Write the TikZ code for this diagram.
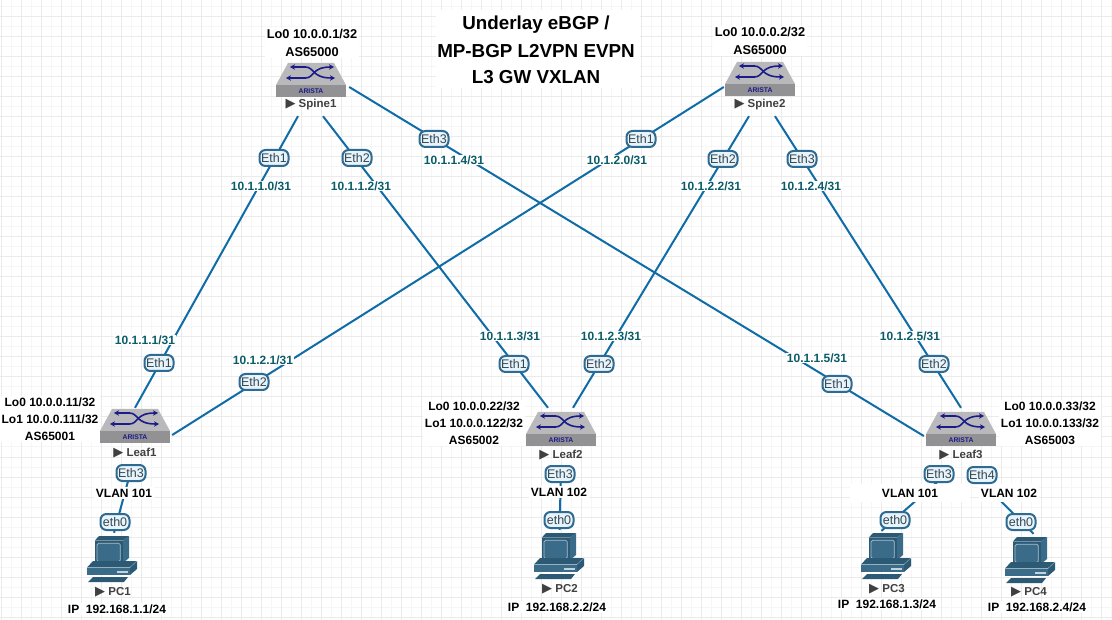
\documentclass[tikz,border=0pt]{standalone}
\usepackage{fontspec}
\setmainfont{Liberation Sans}
\newfontfamily\symfont{DejaVu Sans}
\usetikzlibrary{arrows.meta}
\definecolor{gridmin}{HTML}{F6F6F6}
\definecolor{gridmaj}{HTML}{EBEBEB}
\definecolor{linkc}{HTML}{0F6CA6}
\definecolor{ethfill}{HTML}{E8F4FC}
\definecolor{ethdraw}{HTML}{2F6A92}
\definecolor{ethtext}{HTML}{36464F}
\definecolor{iptext}{HTML}{0A5C68}
\definecolor{navy}{HTML}{1B1B8A}
\definecolor{pcfill}{HTML}{3A6B88}
\definecolor{pcdark}{HTML}{2C5A75}
\definecolor{pcedge}{HTML}{A9C2D0}
\definecolor{swtop}{HTML}{B9B9BB}
\definecolor{swband}{HTML}{929294}
\tikzset{
  x=1pt,y=-1pt,
  link/.style={draw=linkc,line width=2pt},
  devbox/.style={inner sep=0pt,minimum width=70pt,minimum height=54pt},
  pcbox/.style={inner sep=0pt,minimum width=50pt,minimum height=46pt},
  eth/.style={draw=ethdraw,fill=ethfill,line width=2pt,rounded corners=6pt,inner sep=0pt,minimum width=29pt,minimum height=16pt,text=ethtext,font=\fontsize{12.5}{14}\selectfont},
  ip/.style={fill=white,inner sep=1pt,text=iptext,font=\fontsize{12}{14}\selectfont\bfseries},
  info/.style={fill=white,inner sep=1.5pt,text=black,font=\fontsize{12}{14}\selectfont\bfseries,align=center},
  spineinfo/.style={info,font=\fontsize{12.8}{14}\selectfont\bfseries},
  titleline/.style={inner sep=0pt,anchor=base,text=black,font=\fontsize{18.8}{22}\selectfont\bfseries},
  devname/.style={inner sep=0pt,text=black!75,font=\fontsize{11.5}{13}\selectfont\bfseries},
  sw/.pic={
    \fill[swtop] (-23,0) -- (23,0) -- (35,22) -- (-35,22) -- cycle;
    \fill[swband] (-35,22) rectangle (35,34);
    \draw[navy,line width=1.6pt,-{Stealth[length=5pt,width=5.5pt]}] (-6,4) .. controls (4,4) and (0,15) .. (24,15);
    \draw[navy,line width=1.6pt,-{Stealth[length=5pt,width=5.5pt]}] (-5,4) -- (-21,4);
    \draw[navy,line width=1.6pt,-{Stealth[length=5pt,width=5.5pt]}] (-6,15) .. controls (4,15) and (0,4) .. (23,4);
    \draw[navy,line width=1.6pt,-{Stealth[length=5pt,width=5.5pt]}] (-5,15) -- (-25,15);
    \node (-brand) [inner sep=0pt,text=navy,font=\fontsize{6.8}{8}\selectfont\bfseries] at (0,28) {ARISTA};
  },
  pcicon/.pic={
    \fill[pcdark] (7.7,4.7) -- (12,0) -- (42,0) -- (36,4.7) -- cycle;
    \fill[pcfill] (36,4.7) -- (42,0) -- (42,22) -- (36,27) -- cycle;
    \fill[pcdark] (7.7,4.7) rectangle (36,27);
    \draw[pcedge,line width=.7pt,rounded corners=1.5pt,fill=pcfill] (10,7.3) rectangle (33.3,25.5);
    \fill[pcdark] (0,31.5) -- (6,25) -- (50,25) -- (43,31.5) -- cycle;
    \draw[pcedge,line width=.5pt] (0,31.5) -- (43,31.5) -- (50,25);
    \fill[pcfill] (0,31.8) rectangle (43,39);
    \fill[pcdark] (43,31.8) -- (50,25.3) -- (50,33) -- (43,39) -- cycle;
    \fill[white!70!pcfill] (30,35.3) rectangle (41,37);
    \fill[pcdark] (1,46) -- (6,41) -- (41,41) -- (37,46) -- cycle;
  }
}
\newcommand{\tri}{{\symfont\fontsize{13}{13}\selectfont ▶}}
\begin{document}
\begin{tikzpicture}
\useasboundingbox (0,0) rectangle (1112,620);
\fill[white] (0,0) rectangle (1112,620);
% grid
\foreach \gx in {11,31,...,1111} \draw[gridmin,line width=1pt] (\gx,0) -- (\gx,620);
\foreach \gy in {7,27,...,617} \draw[gridmin,line width=1pt] (0,\gy) -- (1112,\gy);
\foreach \gx in {1,21,...,1111} \draw[gridmaj,line width=1pt] (\gx,0) -- (\gx,620);
\foreach \gy in {17,37,...,617} \draw[gridmaj,line width=1pt] (0,\gy) -- (1112,\gy);
% device anchors
\node[devbox] (spine1) at (311,89) {};
\node[devbox] (spine2) at (760,89) {};
\node[devbox] (leaf1) at (135,435) {};
\node[devbox] (leaf2) at (561,435) {};
\node[devbox] (leaf3) at (961,435) {};
\node[pcbox] (pc1) at (112,559) {};
\node[pcbox] (pc2) at (559.5,556) {};
\node[pcbox] (pc3) at (886.5,556) {};
\node[pcbox] (pc4) at (1030.5,560) {};
% connectors
\draw[link] ([xshift=-13pt]spine1.south) -- (leaf1.north);
\draw[link] ([xshift=12pt]spine1.south) -- ([xshift=-13pt]leaf2.north);
\draw[link] ([xshift=3pt,yshift=2pt]spine1.east) -- ([xshift=-2pt,yshift=-1pt]leaf3.west);
\draw[link] ([xshift=-1pt,yshift=2pt]spine2.west) -- ([xshift=2pt]leaf1.east);
\draw[link] ([xshift=-11pt]spine2.south) -- ([xshift=12pt]leaf2.north);
\draw[link] ([xshift=15pt]spine2.south) -- (leaf3.north);
\draw[link] ([xshift=-4pt,yshift=-8pt]leaf1.south) -- ([xshift=2pt,yshift=3pt]pc1.north);
\draw[link] ([yshift=-8pt]leaf2.south) -- ([yshift=3pt]pc2.north);
\draw[link] ([xshift=-16pt,yshift=-13pt]leaf3.south) -- ([xshift=-5pt,yshift=2pt]pc3.north);
\draw[link] ([xshift=14pt,yshift=-13pt]leaf3.south) -- ([xshift=3pt,yshift=3pt]pc4.north);
% title
\node[fill=white,inner sep=0pt,minimum width=204pt,minimum height=78pt] (titlebg) at (538,49) {};
\node[titleline] (t1) at (536,30) {Underlay eBGP /};
\node[titleline] (t2) at (536,57.5) {MP-BGP L2VPN EVPN};
\node[titleline] (t3) at (536,83.5) {L3 GW VXLAN};
% info labels
\node[spineinfo] (i1) at (312,43) {Lo0 10.0.0.1/32\\[4pt]AS65000};
\node[spineinfo] (i2) at (760,41) {Lo0 10.0.0.2/32\\[4pt]AS65000};
\node[info] (i3) at (50,419) {Lo0 10.0.0.11/32\\[3pt]Lo1 10.0.0.111/32\\[3pt]AS65001};
\node[info] (i4) at (474,423) {Lo0 10.0.0.22/32\\[3pt]Lo1 10.0.0.122/32\\[3pt]AS65002};
\node[info] (i5) at (1050,423) {Lo0 10.0.0.33/32\\[3pt]Lo1 10.0.0.133/32\\[3pt]AS65003};
\node[info] (v1) at (124,493) {VLAN 101};
\node[info] (v2) at (559,492) {VLAN 102};
\node[info,minimum width=120pt,minimum height=18pt] (v3) at (910,493) {VLAN 101};
\node[info,minimum height=18pt] (v4) at (1009,493) {VLAN 102};
\node[info] (a1) at (117,609) {IP\ \ 192.168.1.1/24};
\node[info] (a2) at (557,607) {IP\ \ 192.168.2.2/24};
\node[info] (a3) at (887,604) {IP\ \ 192.168.1.3/24};
\node[info] (a4) at (1037,607) {IP\ \ 192.168.2.4/24};
% ip labels
\node[ip] (p1) at (261,186) {10.1.1.0/31};
\node[ip] (p2) at (361,186) {10.1.1.2/31};
\node[ip] (p3) at (454,160) {10.1.1.4/31};
\node[ip] (p4) at (617,160) {10.1.2.0/31};
\node[ip] (p5) at (711,186) {10.1.2.2/31};
\node[ip] (p6) at (811,186) {10.1.2.4/31};
\node[ip] (p7) at (145,340) {10.1.1.1/31};
\node[ip] (p8) at (263,360) {10.1.2.1/31};
\node[ip] (p9) at (510,336) {10.1.1.3/31};
\node[ip] (p10) at (611,336) {10.1.2.3/31};
\node[ip] (p11) at (817,358) {10.1.1.5/31};
\node[ip] (p12) at (910,336) {10.1.2.5/31};
% interface labels
\node[eth] (e1) at (274,158) {Eth1};
\node[eth] (e2) at (357,158) {Eth2};
\node[eth] (e3) at (434,139) {Eth3};
\node[eth] (e4) at (641,139) {Eth1};
\node[eth] (e5) at (723,159) {Eth2};
\node[eth] (e6) at (802,159) {Eth3};
\node[eth] (e7) at (159,363) {Eth1};
\node[eth] (e8) at (254,382) {Eth2};
\node[eth] (e9) at (131,473) {Eth3};
\node[eth] (e10) at (115,522) {eth0};
\node[eth] (e11) at (514,364) {Eth1};
\node[eth] (e12) at (599,364) {Eth2};
\node[eth] (e13) at (560,474) {Eth3};
\node[eth] (e14) at (559,520) {eth0};
\node[eth] (e15) at (837,384) {Eth1};
\node[eth] (e16) at (934,364) {Eth2};
\node[eth] (e17) at (939,474) {Eth3};
\node[eth] (e18) at (982,475) {Eth4};
\node[eth] (e19) at (895,520) {eth0};
\node[eth] (e20) at (1021,522) {eth0};
% device icons
\pic (ws1) at (311,63) {sw};
\pic (ws2) at (760,62) {sw};
\pic (wl1) at (135,409) {sw};
\pic (wl2) at (561,412) {sw};
\pic (wl3) at (961,412) {sw};
\pic at (87,536) {pcicon};
\pic at (534,533) {pcicon};
\pic at (861,533) {pcicon};
\pic at (1005,537) {pcicon};
% device names
\node[devname] (n1) at (311,105) {\tri\ Spine1};
\node[devname] (n2) at (760,105) {\tri\ Spine2};
\node[devname] (n3) at (135,453) {\tri\ Leaf1};
\node[devname] (n4) at (561,455) {\tri\ Leaf2};
\node[devname] (n5) at (961,455) {\tri\ Leaf3};
\node[devname] (n6) at (113,592) {\tri\ PC1};
\node[devname] (n7) at (560,589) {\tri\ PC2};
\node[devname] (n8) at (887,589) {\tri\ PC3};
\node[devname] (n9) at (1029,592) {\tri\ PC4};
\end{tikzpicture}
\end{document}
